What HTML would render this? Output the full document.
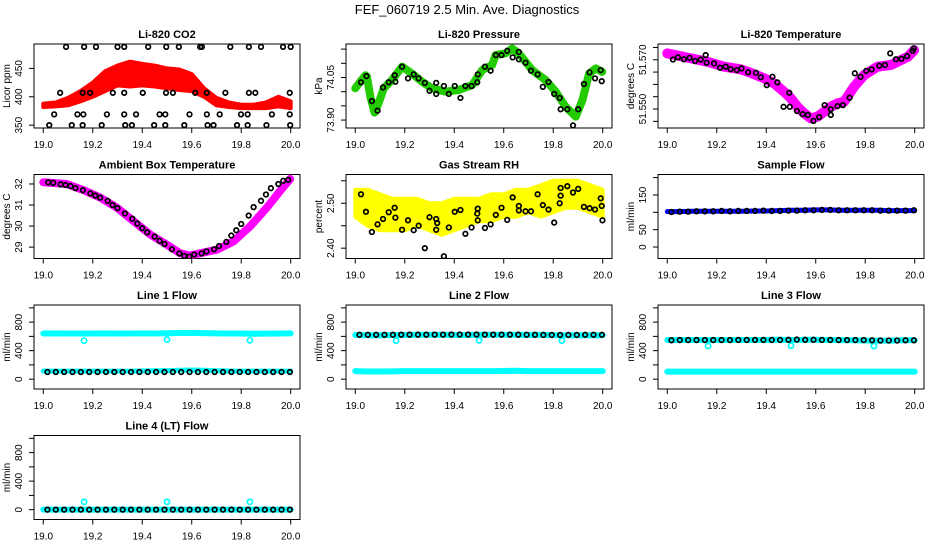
<!DOCTYPE html>
<html><head><meta charset="utf-8">
<style>
html,body{margin:0;padding:0;background:#fff;}
svg{display:block;font-family:"Liberation Sans",Arial,sans-serif;}
</style></head>
<body>
<svg id="chart" width="936" height="540" viewBox="0 0 936 540" xmlns="http://www.w3.org/2000/svg">
<text x="467" y="14" font-size="13" text-anchor="middle">FEF_060719  2.5 Min. Ave. Diagnostics</text>
</svg>
<script>
// ---------- data ----------
const xTicks = [19.0,19.2,19.4,19.6,19.8,20.0];
const xTickLabels = ["19.0","19.2","19.4","19.6","19.8","20.0"];

// CO2
const co2Lo = [382,383,385,392,400,410,420,418,420,418,415,412,410,400,385,382,380,380,380,383,380];
const co2Hi = [388,390,398,410,425,445,455,462,458,455,450,448,440,415,398,390,386,386,390,400,392];
const co2BlackT = [19.092,19.165,19.213,19.300,19.327,19.424,19.497,19.548,19.634,19.641,19.756,19.831,19.880,19.969,20.0,
 19.068,19.159,19.189,19.281,19.327,19.402,19.496,19.524,19.614,19.661,19.736,19.831,19.857,19.996,
 19.044,19.138,19.162,19.257,19.327,19.375,19.470,19.493,19.591,19.661,19.713,19.799,19.826,19.924,19.996,
 19.024,19.115,19.159,19.236,19.331,19.358,19.448,19.493,19.570,19.664,19.688,19.783,19.826,19.902,19.998];
const co2BlackV = [488,488,488,488,488,488,488,488,488,488,488,488,488,488,488,
 407,407,407,407,407,407,407,407,407,407,407,407,407,407,
 369,369,369,369,369,369,369,369,369,369,369,369,369,369,369,
 350,350,350,350,350,350,350,350,350,350,350,350,350,350,350];

// Pressure
const presT = [19.000,19.020,19.041,19.047,19.061,19.078,19.094,19.115,19.148,19.189,19.229,19.270,19.310,19.364,19.418,19.472,19.513,19.553,19.567,19.607,19.634,19.661,19.715,19.769,19.810,19.850,19.891,19.918,19.945,19.972,19.998];
const presV = [74.012,74.035,74.058,74.053,73.982,73.926,73.959,74.012,74.041,74.088,74.064,74.035,74.012,74.000,74.006,74.023,74.076,74.094,74.129,74.135,74.152,74.135,74.076,74.041,74.000,73.947,73.912,73.970,74.064,74.082,74.070];
const presBlackT = [19.023,19.045,19.067,19.090,19.112,19.135,19.159,19.162,19.189,19.213,19.236,19.256,19.281,19.300,19.327,19.327,19.358,19.378,19.402,19.425,19.445,19.470,19.493,19.495,19.524,19.547,19.568,19.591,19.614,19.636,19.661,19.661,19.688,19.710,19.737,19.758,19.781,19.804,19.826,19.830,19.857,19.880,19.901,19.924,19.947,19.969,19.992,19.996];
const presBlackV = [74.033,74.055,73.967,73.933,74.015,74.033,74.058,74.035,74.088,74.047,74.061,74.047,74.031,74.003,74.031,73.992,74.020,73.992,74.020,73.978,74.020,74.020,74.033,74.061,74.088,74.074,74.129,74.129,74.144,74.121,74.140,74.114,74.102,74.074,74.061,74.017,74.034,73.992,73.978,73.938,73.938,73.881,73.938,74.027,74.068,74.047,74.076,74.037];

// Li-820 temperature
const ltempT = [19.000,19.094,19.162,19.229,19.297,19.337,19.391,19.432,19.472,19.499,19.526,19.553,19.580,19.607,19.634,19.661,19.688,19.715,19.755,19.796,19.850,19.904,19.972,19.998];
const ltempV = [51.5726,51.5706,51.5692,51.5672,51.5661,51.5647,51.5625,51.5604,51.5570,51.5544,51.5509,51.5483,51.5462,51.5469,51.5489,51.5509,51.5523,51.5530,51.5591,51.5638,51.5672,51.5679,51.5712,51.5739];
const ltempBlackT = [19.023,19.043,19.067,19.090,19.112,19.135,19.155,19.159,19.189,19.213,19.236,19.256,19.281,19.300,19.327,19.358,19.378,19.402,19.425,19.445,19.470,19.493,19.495,19.524,19.547,19.568,19.591,19.614,19.636,19.661,19.661,19.688,19.710,19.737,19.758,19.781,19.804,19.826,19.857,19.880,19.901,19.924,19.947,19.969,19.992,19.996];
const ltempBlackV = [51.5701,51.5710,51.5702,51.5708,51.5695,51.5701,51.5719,51.5688,51.5685,51.5668,51.5672,51.5662,51.5658,51.5665,51.5649,51.5647,51.5629,51.5597,51.5631,51.5608,51.5509,51.5566,51.5509,51.5492,51.5479,51.5476,51.5452,51.5467,51.5516,51.5499,51.5476,51.5512,51.5516,51.5546,51.5645,51.5631,51.5655,51.5661,51.5676,51.5679,51.5726,51.5702,51.5704,51.5715,51.5736,51.5746];

// Ambient box temperature
const ambT = [19.000,19.094,19.162,19.229,19.297,19.364,19.432,19.499,19.553,19.593,19.634,19.702,19.769,19.837,19.904,19.958,19.998];
const ambV = [32.08,32.00,31.71,31.36,30.88,30.24,29.60,29.12,28.71,28.60,28.71,28.88,29.27,30.00,30.88,31.68,32.24];
const ambBlackT = [19.02,19.04,19.07,19.09,19.11,19.13,19.16,19.19,19.21,19.23,19.26,19.28,19.30,19.33,19.36,19.38,19.40,19.42,19.45,19.47,19.49,19.52,19.55,19.57,19.59,19.61,19.64,19.66,19.69,19.71,19.74,19.76,19.78,19.80,19.83,19.85,19.88,19.90,19.92,19.95,19.97,19.99];
const ambBlackV = [32.08,32.05,31.98,31.95,31.90,31.80,31.70,31.55,31.45,31.35,31.20,31.00,30.85,30.60,30.35,30.12,29.90,29.70,29.50,29.30,29.15,28.90,28.70,28.58,28.55,28.65,28.70,28.80,28.90,29.05,29.25,29.55,29.80,30.10,30.50,30.90,31.20,31.50,31.80,32.00,32.15,32.20];

// Gas stream RH
const rhLo = [2.47,2.45,2.44,2.44,2.44,2.45,2.44,2.43,2.44,2.45,2.46,2.46,2.47,2.47,2.48,2.47,2.48,2.49,2.49,2.48,2.47];
const rhHi = [2.53,2.53,2.52,2.51,2.51,2.51,2.50,2.50,2.51,2.51,2.51,2.52,2.52,2.53,2.53,2.54,2.55,2.55,2.55,2.54,2.53];
const rhBlackT = [19.023,19.043,19.067,19.090,19.112,19.135,19.159,19.162,19.189,19.213,19.236,19.256,19.300,19.327,19.331,19.327,19.378,19.402,19.425,19.445,19.470,19.493,19.495,19.495,19.524,19.547,19.568,19.591,19.614,19.636,19.661,19.661,19.688,19.710,19.737,19.758,19.781,19.804,19.826,19.830,19.830,19.857,19.880,19.901,19.924,19.947,19.969,19.992,19.996,19.999,19.281,19.358];
const rhBlackV = [2.520,2.481,2.436,2.453,2.465,2.480,2.490,2.468,2.441,2.462,2.440,2.450,2.469,2.465,2.456,2.441,2.446,2.481,2.485,2.432,2.446,2.477,2.488,2.462,2.445,2.453,2.474,2.490,2.463,2.513,2.494,2.484,2.482,2.482,2.520,2.496,2.486,2.457,2.500,2.517,2.534,2.538,2.524,2.532,2.492,2.489,2.486,2.511,2.494,2.462,2.400,2.382];

// Sample flow
const sflowV = [102,102,103,103,103,103,103,104,104,105,106,106,107,107,106,106,106,106,105,105,105];
const sflowBlack = [101,102,102,103,103,103,104,103,104,104,104,105,104,104,105,105,106,106,107,107,106,106,106,106,106,105,105,105,105,106];

// Line flows
const l1Up = [640,642,640,641,640,642,640,641,642,640,643,648,648,645,642,640,640,637,638,640,642];
const l1Low = [115,112,112,112,112,112,112,112,115,118,120,125,128,125,118,115,112,112,112,112,112];
const l1OutT = [19.165,19.5,19.835];
const l1OutV = [540,555,545];
const l1Black = [100,100,100,100,100,100,100,100,100,100,100,100,100,100,100,100,100,100,100,100,100,100,100,100,100,100,100,100,100,100];

const l2Up = [620,615,615,620,620,622,622,622,620,620,622,622,622,622,620,622,615,615,615,615,615];
const l2Low = [112,108,108,110,112,112,112,112,112,112,112,112,115,118,112,112,112,112,112,112,112];
const l2OutT = [19.165,19.5,19.835];
const l2OutV = [540,545,540];
const l2Black = [622,622,622,622,622,624,624,624,624,625,625,626,626,626,626,624,624,624,624,624,623,622,620,620,620,620,620,622,622,622];

const l3Up = [550,550,550,550,550,550,550,550,550,555,548,552,552,550,548,545,542,540,540,545,545];
const l3Low = [105,105,105,105,105,105,105,105,105,105,105,105,105,105,105,105,105,105,105,105,105];
const l3OutT = [19.165,19.5,19.835];
const l3OutV = [465,470,465];
const l3Black = [545,548,548,548,548,548,548,548,550,550,550,550,550,550,552,555,552,552,550,550,548,548,548,548,545,542,542,542,545,545];

const l4Line = [0,0,0,0,0,0,0,0,0,0,0,0,0,0,0,0,0,0,0,0,0];
const l4OutT = [19.165,19.5,19.835];
const l4OutV = [110,110,110];
const l4Black = [0,0,0,0,0,0,0,0,0,0,0,0,0,0,0,0,0,0,0,0,0,0,0,0,0,0,0,0,0,0];

// ---------- drawing ----------
const svg = document.getElementById('chart');
const NS = 'http://www.w3.org/2000/svg';
function mk(tag, attrs, parent){
  const e = document.createElementNS(NS, tag);
  for (const k in attrs) e.setAttribute(k, attrs[k]);
  (parent||svg).appendChild(e);
  return e;
}
const grid21 = []; for (let i=0;i<21;i++) grid21.push(19 + i*0.05);
const grid30 = []; for (let i=0;i<30;i++) grid30.push(19.0167 + i*(0.98/29));

function panel(col,row,title,ylab,ymin,ymax,ticks,labels,labelPos){
  const L = [34,346,658][col], T = 44 + row*130.5, W = 266, H = 84;
  const g = mk('g', {});
  
  
  const sx = t => L + 9.3 + (t-19)*247.4;
  const sy = v => T + H - (v - ymin)/(ymax-ymin)*H;
  const box = mk('rect',{x:L,y:T,width:W,height:H,fill:'none',stroke:'#000','stroke-width':1},g);
  
  
  const tt = mk('text',{x:L+W/2,y:T-6,'font-size':11,'font-weight':'bold','text-anchor':'middle'},g);
  tt.textContent = title;
  
  
  const xa = mk('g',{},g);
  
  
  mk('line',{x1:sx(19),x2:sx(20),y1:T+H,y2:T+H,stroke:'#000'},xa);
  xTicks.forEach((t,i)=>{
    mk('line',{x1:sx(t),x2:sx(t),y1:T+H,y2:T+H+5,stroke:'#000'},xa);
    const tx = mk('text',{x:sx(t),y:T+H+20,'font-size':10,'text-anchor':'middle'},xa);
    tx.textContent = xTickLabels[i];
    
    
  });
  const ya = mk('g',{},g);
  
  
  mk('line',{x1:L,x2:L,y1:sy(ticks[0]),y2:sy(ticks[ticks.length-1]),stroke:'#000'},ya);
  ticks.forEach(v=>mk('line',{x1:L-5,x2:L,y1:sy(v),y2:sy(v),stroke:'#000'},ya));
  labels.forEach((lb,i)=>{
    const y = sy(labelPos[i]);
    const tx = mk('text',{x:0,y:0,'font-size':10,'text-anchor':'middle',transform:`translate(${L-12},${y}) rotate(-90)`},ya);
    tx.textContent = lb;
    
    
  });
  const yl = mk('text',{x:0,y:0,'font-size':10,'text-anchor':'middle',transform:`translate(${L-24},${T+H/2}) rotate(-90)`},g);
  yl.textContent = ylab;
  
  
  const clip = 'c'+col+row;
  const cp = mk('clipPath',{id:clip},g); mk('rect',{x:L,y:T,width:W,height:H},cp);
  const plot = mk('g',{'clip-path':`url(#${clip})`},g);
  return {sx,sy,g:plot};
}
function band(p,ts,lo,hi,color,name){
  const pts = ts.map((t,i)=>p.sx(t)+','+p.sy(hi[i])).concat(ts.slice().reverse().map((t,j)=>{const i=ts.length-1-j;return p.sx(t)+','+p.sy(lo[i]);}));
  const e = mk('polygon',{points:pts.join(' '),fill:color,stroke:color,'stroke-width':4,'stroke-linejoin':'round'},p.g);
  
  
}
function line(p,ts,vs,color,w,name){
  const e = mk('polyline',{points:ts.map((t,i)=>p.sx(t)+','+p.sy(vs[i])).join(' '),fill:'none',stroke:color,'stroke-width':w,'stroke-linejoin':'round','stroke-linecap':'round'},p.g);
  
  
}
function points(p,ts,vs,color,name,r){
  const gg = mk('g',{},p.g);
  
  
  ts.forEach((t,i)=>{
    const c = mk('circle',{cx:p.sx(t),cy:p.sy(vs[i]),r:r||2.3,fill:'none',stroke:color,'stroke-width':1.7},gg);
    
    
  });
}
const flowTicks=[0,200,400,600,800,1000];

// Row 1
let p = panel(0,0,'Li-820 CO2','Licor ppm',345,493,[350,400,450],['350','400','450'],[350,400,450]);
band(p,grid21,co2Lo,co2Hi,'#ff0000','co2-series');
points(p,co2BlackT,co2BlackV,'#000','co2-black-series');

p = panel(1,0,'Li-820 Pressure','kPa',73.872,74.168,[73.90,73.95,74.00,74.05,74.10,74.15],['73.90','74.05'],[73.90,74.05]);
line(p,presT,presV,'#22cc00',8,'pressure-series');
points(p,presBlackT,presBlackV,'#000','pressure-black-series');

p = panel(2,0,'Li-820 Temperature','degrees C',51.5423,51.5764,[51.575,51.570,51.565,51.560,51.555,51.550,51.545],['51.570','51.550'],[51.570,51.550]);
line(p,ltempT,ltempV,'#ff00ff',10,'li820-temp-series');
points(p,ltempBlackT,ltempBlackV,'#000','li820-temp-black-series');

// Row 2
p = panel(0,1,'Ambient Box Temperature','degrees C',28.46,32.45,[29,30,31,32],['29','30','31','32'],[29,30,31,32]);
line(p,ambT,ambV,'#ff00ff',8,'ambient-temp-series');
points(p,ambBlackT,ambBlackV,'#000','ambient-temp-black-series');

p = panel(1,1,'Gas Stream RH','percent',2.377,2.564,[2.40,2.45,2.50,2.55],['2.40','2.50'],[2.40,2.50]);
band(p,grid21,rhLo,rhHi,'#ffff00','rh-series');
points(p,rhBlackT,rhBlackV,'#000','rh-black-series');

p = panel(2,1,'Sample Flow','ml/min',-33,209,[0,50,100,150,200],['0','50','150'],[0,50,150]);
line(p,grid21,sflowV,'#0000ff',5,'sample-flow-series');
points(p,grid30,sflowBlack,'#000','sample-flow-black-series');

// Row 3
p = panel(0,2,'Line 1 Flow','ml/min',-138,1040,flowTicks,['0','400','800'],[0,400,800]);
line(p,grid21,l1Up,'#00ffff',6,'line1-upper-series');
line(p,grid21,l1Low,'#00ffff',5,'line1-lower-series');
points(p,l1OutT,l1OutV,'#00ffff','line1-outliers',2.6);
points(p,grid30,l1Black,'#000','line1-black-series');

p = panel(1,2,'Line 2 Flow','ml/min',-138,1040,flowTicks,['0','400','800'],[0,400,800]);
line(p,grid21,l2Up,'#00ffff',6,'line2-upper-series');
line(p,grid21,l2Low,'#00ffff',6,'line2-lower-series');
points(p,l2OutT,l2OutV,'#00ffff','line2-outliers',2.6);
points(p,grid30,l2Black,'#000','line2-black-series');

p = panel(2,2,'Line 3 Flow','ml/min',-138,1040,flowTicks,['0','400','800'],[0,400,800]);
line(p,grid21,l3Up,'#00ffff',6,'line3-upper-series');
line(p,grid21,l3Low,'#00ffff',6,'line3-lower-series');
points(p,l3OutT,l3OutV,'#00ffff','line3-outliers',2.6);
points(p,grid30,l3Black,'#000','line3-black-series');

// Row 4
p = panel(0,3,'Line 4 (LT) Flow','ml/min',-138,1040,flowTicks,['0','400','800'],[0,400,800]);
line(p,grid21,l4Line,'#00ffff',6,'line4-series');
points(p,l4OutT,l4OutV,'#00ffff','line4-outliers',2.6);
points(p,grid30,l4Black,'#000','line4-black-series');
</script>
</body></html>
